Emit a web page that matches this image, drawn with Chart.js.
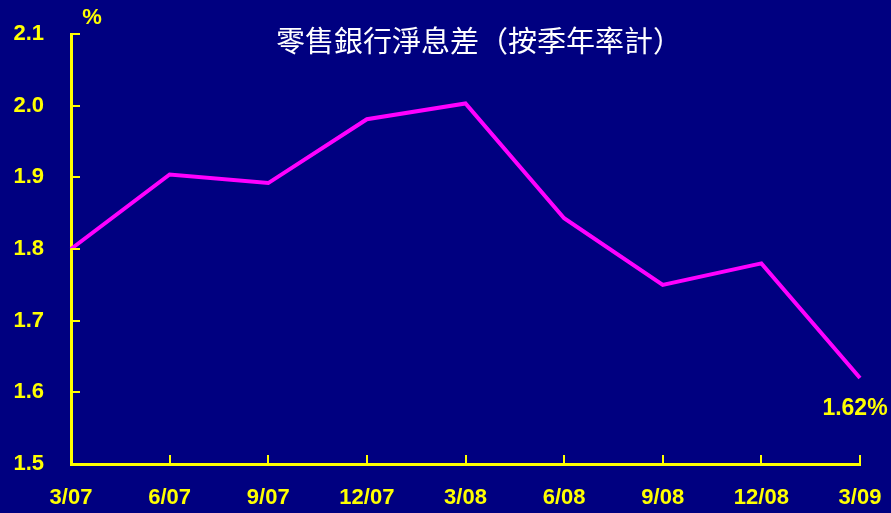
<!DOCTYPE html>
<html>
<head>
<meta charset="utf-8">
<script src="https://cdn.jsdelivr.net/npm/chart.js@4"></script>
<style>
  html, body { margin: 0; padding: 0; background: #000080; }
  canvas { display: block; }
</style>
</head>
<body>
<canvas id="nimChart" width="891" height="513"></canvas>
<script>
// Data
const quarters = ['3/07','6/07','9/07','12/07','3/08','6/08','9/08','12/08','3/09'];
const margin = [1.80, 1.904, 1.892, 1.981, 2.003, 1.843, 1.750, 1.780, 1.620];
const yTicks = [1.5, 1.6, 1.7, 1.8, 1.9, 2.0, 2.1];
const title = '零售銀行淨息差（按季年率計）';
const lastLabel = '1.62%';

const YELLOW = '#FFFF00';
const FAMILY = "'Liberation Sans', Arial, sans-serif";

// axes with inside ticks, title and value label
const decorations = {
  id: 'decorations',
  afterDraw(chart) {
    const { ctx, chartArea: a, scales: { x, y } } = chart;
    ctx.save();
    ctx.strokeStyle = YELLOW;
    ctx.lineWidth = 2;
    yTicks.forEach(v => {
      const py = Math.round(y.getPixelForValue(v));
      ctx.beginPath(); ctx.moveTo(a.left, py); ctx.lineTo(a.left + 9, py); ctx.stroke();
    });
    quarters.forEach((q, i) => {
      if (i === 0) return;
      const px = Math.round(x.getPixelForValue(i));
      ctx.beginPath(); ctx.moveTo(px, a.bottom); ctx.lineTo(px, a.bottom - 9); ctx.stroke();
    });

    ctx.fillStyle = YELLOW;
    ctx.font = 'bold 22px ' + FAMILY;
    ctx.textAlign = 'center';
    ctx.textBaseline = 'middle';
    ctx.fillText('%', 92, 18);

    const last = margin.length - 1;
    ctx.font = 'bold 23px ' + FAMILY;
    ctx.fillText(lastLabel, x.getPixelForValue(last) - 5, y.getPixelForValue(margin[last]) + 31);

    ctx.fillStyle = '#FFFFFF';
    ctx.font = "29px 'Noto Sans CJK TC', sans-serif";
    ctx.fillText(title, 479, 41);
    ctx.restore();
  }
};

new Chart(document.getElementById('nimChart'), {
  type: 'line',
  data: {
    labels: quarters,
    datasets: [{
      data: margin,
      borderColor: '#FF00FF',
      borderWidth: 4,
      pointRadius: 0,
      tension: 0,
      fill: false
    }]
  },
  options: {
    responsive: false,
    animation: false,
    layout: { padding: { top: 34, right: 31, left: 0, bottom: 0 } },
    plugins: { legend: { display: false }, tooltip: { enabled: false } },
    scales: {
      x: {
        offset: false,
        grid: { display: false, drawTicks: false },
        border: { color: YELLOW, width: 3 },
        ticks: { color: YELLOW, font: { family: FAMILY, size: 22, weight: 'bold' }, padding: 21, maxRotation: 0, autoSkip: false },
        afterFit: s => { s.height = 49; s.paddingLeft = 0; s.paddingRight = 0; }
      },
      y: {
        min: 1.5, max: 2.1,
        grid: { display: false, drawTicks: false },
        border: { color: YELLOW, width: 3 },
        afterBuildTicks: s => { s.ticks = yTicks.map(v => ({ value: v })); },
        ticks: { color: YELLOW, font: { family: FAMILY, size: 22, weight: 'bold' }, padding: 27, callback: v => v.toFixed(1) },
        afterFit: s => { s.width = 71; s.paddingTop = 0; s.paddingBottom = 0; }
      }
    }
  },
  plugins: [decorations]
});
</script>
</body>
</html>
